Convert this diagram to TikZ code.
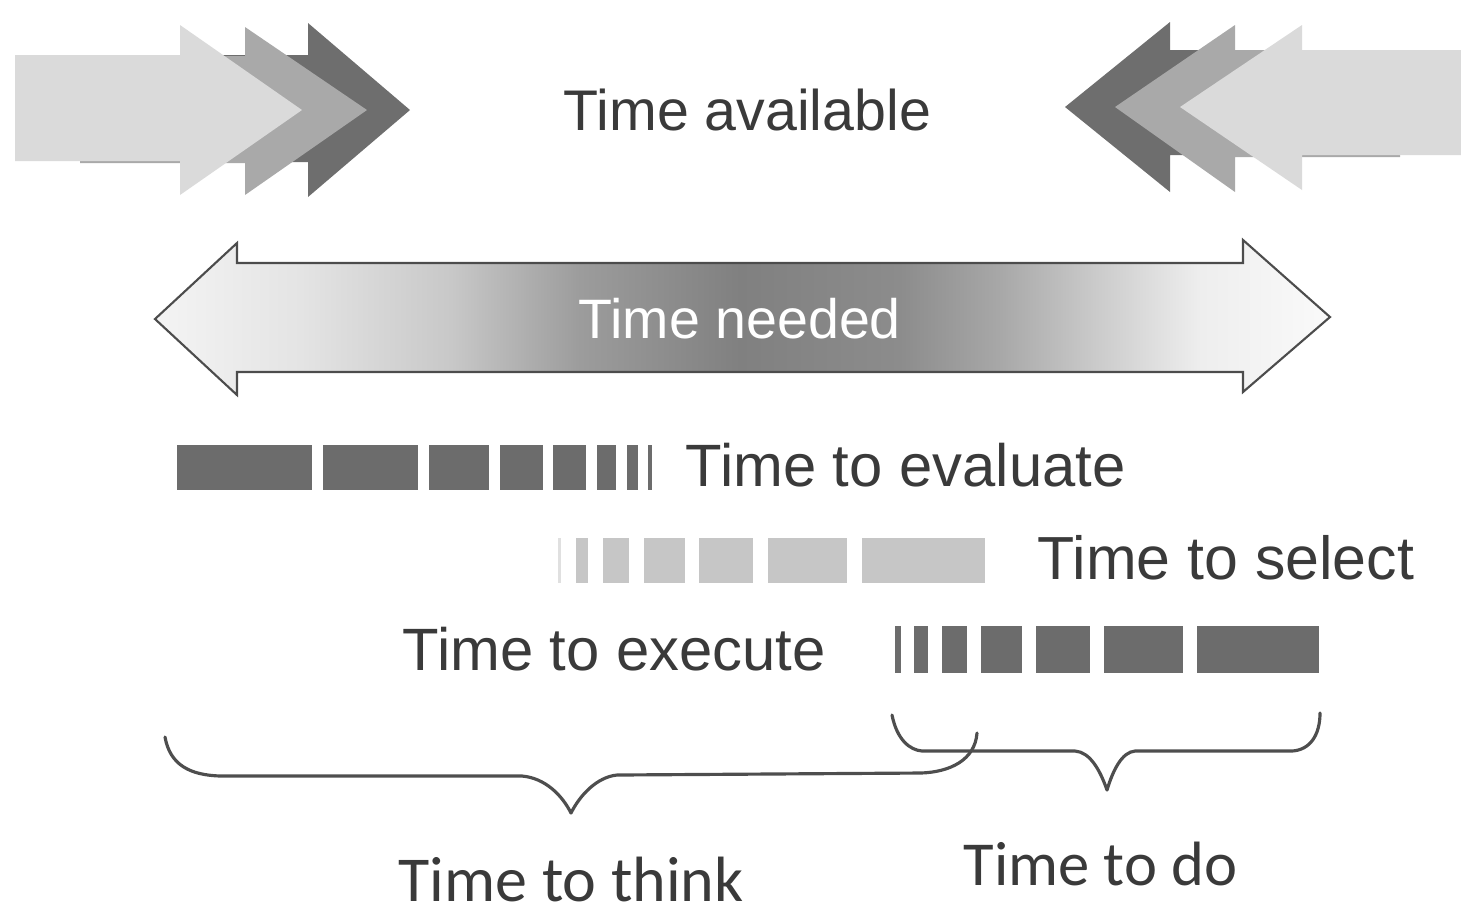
\documentclass[tikz,border=0pt]{standalone}
\usepackage{fontspec}
\setmainfont{Liberation Sans}
\newfontfamily\bottomfont{Carlito}
\definecolor{arrlight}{HTML}{DADADA}
\definecolor{arrmid}{HTML}{A9A9A9}
\definecolor{arrdark}{HTML}{6E6E6E}
\definecolor{bardark}{HTML}{6C6C6C}
\definecolor{barlight}{HTML}{C6C6C6}
\definecolor{txt}{HTML}{3A3A3A}
\definecolor{sA}{HTML}{F4F4F4}
\definecolor{sB}{HTML}{E4E4E4}
\definecolor{sC}{HTML}{C8C8C8}
\definecolor{sD}{HTML}{9C9C9C}
\definecolor{sE}{HTML}{808080}
\definecolor{sF}{HTML}{8C8C8C}
\definecolor{sG}{HTML}{A8A8A8}
\definecolor{sH}{HTML}{CCCCCC}
\definecolor{sI}{HTML}{EEEEEE}
\definecolor{sJ}{HTML}{FAFAFA}
\pgfdeclarehorizontalshading{needshade}{100bp}{color(0bp)=(sA); color(25bp)=(sA); color(31.2bp)=(sB); color(37.6bp)=(sC); color(43.1bp)=(sD); color(49.9bp)=(sE); color(56.7bp)=(sF); color(61bp)=(sG); color(65.2bp)=(sH); color(69.5bp)=(sI); color(75bp)=(sJ); color(100bp)=(sJ)}
\tikzset{
  lbl/.style={anchor=base west, inner sep=0pt, text=txt},
  brace/.style={draw=txt!90, line width=0.9pt, line cap=round, line join=round},
  evalbar/.style={fill=bardark},
  selbar/.style={fill=barlight},
  exebar/.style={fill=bardark},
}
\begin{document}
\begin{tikzpicture}[x=0.01cm, y=-0.01cm]
\useasboundingbox (0,0) rectangle (1461,917);
% ---- top-left arrows (back to front)
\fill[arrdark] (200,55) -- (308,55) -- (308,23) -- (410,110) -- (308,197) -- (308,162) -- (200,162) -- cycle;
\fill[arrmid] (80,56) -- (245,56) -- (245,27) -- (367,110) -- (245,195) -- (245,163) -- (80,163) -- cycle;
\fill[arrlight] (15,55) -- (180,55) -- (180,25) -- (302,110) -- (180,195) -- (180,161) -- (15,161) -- cycle;
% ---- top-right arrows (back to front)
\fill[arrdark] (1290,50) -- (1170,50) -- (1170,22) -- (1065,107) -- (1170,192) -- (1170,155) -- (1290,155) -- cycle;
\fill[arrmid] (1400,50) -- (1235,50) -- (1235,25) -- (1115,107) -- (1235,192) -- (1235,157) -- (1400,157) -- cycle;
\fill[arrlight] (1461,50) -- (1302,50) -- (1302,25) -- (1180,107) -- (1302,190) -- (1302,155) -- (1461,155) -- cycle;
\node[lbl, font=\fontsize{16.3}{18}\selectfont] (avail) at (563,130) {Time available};
% ---- double arrow
\shade[shading=needshade, draw=black!70, line width=0.6pt, line join=miter]
  (155,319) -- (237,243) -- (237,263) -- (1243,263) -- (1243,240) -- (1330,317)
  -- (1243,392) -- (1243,372) -- (237,372) -- (237,395) -- cycle;
\node[lbl, text=white, font=\fontsize{15.8}{18}\selectfont] (needed) at (578,338) {Time needed};
% ---- evaluate bars
\foreach \a/\b in {177/312, 323/418, 429/489, 500/543, 553/586, 597/616, 627/638, 648/652}
  \fill[evalbar] (\a,445) rectangle (\b,490);
\node[lbl, font=\fontsize{17}{18}\selectfont] (eval) at (685,486) {Time to evaluate};
% ---- select bars
\fill[black!12] (558,538) rectangle (561,583);
\foreach \a/\b in {576/588, 603/629, 644/685, 699/753, 768/847, 862/985}
  \fill[selbar] (\a,538) rectangle (\b,583);
\node[lbl, font=\fontsize{17.3}{18}\selectfont] (sel) at (1037,579) {Time to select};
% ---- execute bars
\foreach \a/\b in {895/901, 914/928, 942/967, 981/1022, 1036/1090, 1104/1183, 1197/1319}
  \fill[exebar] (\a,626) rectangle (\b,673);
\node[lbl, font=\fontsize{17}{18}\selectfont] (exe) at (402,670) {Time to execute};
% ---- braces
\draw[brace] (165,737) .. controls (170,765) and (190,775) .. (220,776) -- (522,776)
  .. controls (545,778) and (562,795) .. (571,813)
  .. controls (580,795) and (597,777) .. (617,775) -- (921,773)
  .. controls (950,772) and (975,760) .. (977,733);
\draw[brace] (892,715) .. controls (897,740) and (910,750) .. (922,751) -- (1075,751)
  .. controls (1090,752) and (1100,770) .. (1107,790)
  .. controls (1113,770) and (1122,752) .. (1135,751) -- (1292,751)
  .. controls (1310,750) and (1320,735) .. (1320,713);
\node[lbl, font=\bottomfont\fontsize{18.2}{20}\selectfont] (think) at (398,901) {Time to think};
\node[lbl, font=\bottomfont\fontsize{17.8}{20}\selectfont] (do) at (963,885) {Time to do};
\end{tikzpicture}
\end{document}
